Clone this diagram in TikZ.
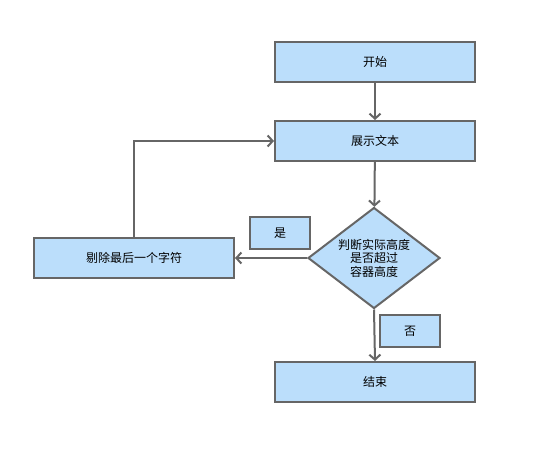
\documentclass[tikz,border=0pt]{standalone}
\usepackage{fontspec}
\newfontfamily\cjk{Noto Sans CJK SC}
\usepackage{xcolor}
\usepackage{tikz}
\usetikzlibrary{shapes,arrows,positioning,calc,arrows.meta}
\definecolor{boxfill}{HTML}{BBDEFB}
\definecolor{boxline}{HTML}{666666}

\begin{document}
\begin{tikzpicture}[x=1pt,y=-1pt,
    font=\cjk\fontsize{12}{15}\selectfont,
    stepbox/.style={draw=boxline,fill=boxfill,line width=2pt,minimum width=200pt,minimum height=40pt,inner sep=0pt},
    tagbox/.style={draw=boxline,fill=boxfill,line width=2pt,minimum width=60pt,minimum height=32pt,inner sep=0pt},
    decide/.style={diamond,draw=boxline,fill=boxfill,line width=2pt,aspect=1.3,inner sep=0pt,minimum width=132pt,minimum height=101pt,align=center},
    link/.style={draw=boxline,line width=2pt,-{Straight Barb[length=5pt,width=11pt]}}]
    \useasboundingbox (0,0) rectangle (557,450);
    % Steps
    \node[stepbox] (start) at (375,62) {开始};
    \node[stepbox] (show) at (375,141) {展示文本};
    \node[decide] (check) at (374,258) {判断实际高度\\[-1.5pt]是否超过\\[-1.5pt]容器高度};
    \node[stepbox] (trim) at (134,258) {剔除最后一个字符};
    \node[stepbox] (stop) at (375,382) {结束};
    % Tags
    \node[tagbox] (yes) at (280,233) {是};
    \node[tagbox] (no) at (410,331) {否};
    % Links
    \draw[link] (start) -- (show);
    \draw[link] (show) -- (check);
    \draw[link] (check.west) -- (trim.east);
    \draw[link] (trim.north) |- (show.west);
    \draw[link] (check.south) -- (stop.north);
\end{tikzpicture}
\end{document}
